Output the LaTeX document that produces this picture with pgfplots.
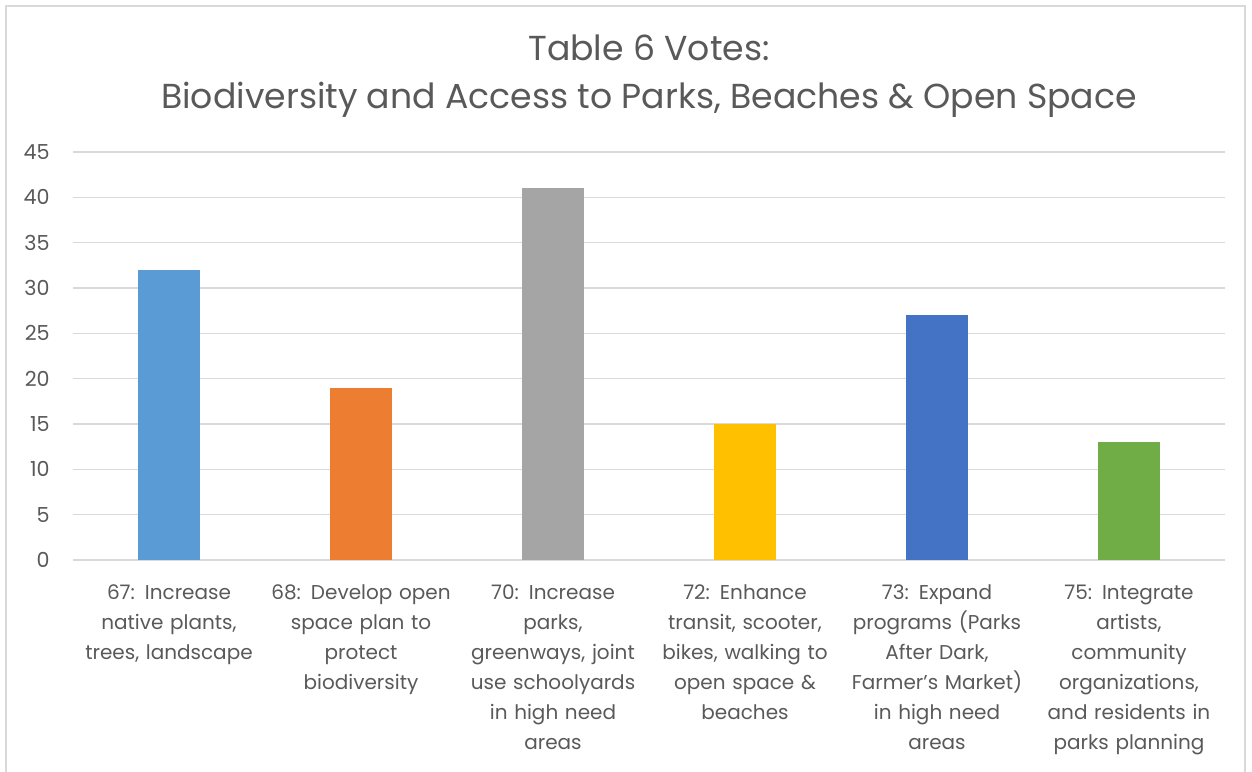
\documentclass[border=0pt]{standalone}
\usepackage{pgfplots}
\pgfplotsset{compat=1.18}
\usepackage{fontspec}
\setmainfont{Poppins}
\definecolor{txt}{HTML}{595959}
\definecolor{grd}{HTML}{D9D9D9}
\definecolor{c1}{HTML}{5B9BD5}
\definecolor{c2}{HTML}{ED7D31}
\definecolor{c3}{HTML}{A5A5A5}
\definecolor{c4}{HTML}{FFC000}
\definecolor{c5}{HTML}{4472C4}
\definecolor{c6}{HTML}{70AD47}
\begin{document}
\begin{tikzpicture}[x=0.75pt,y=0.75pt]
\useasboundingbox (0,0) rectangle (1252,-771);
\draw[grd, line width=1pt] (6,-790) -- (6,-6) -- (1245,-6) -- (1245,-790);
\begin{axis}[
  at={(54.75pt,-420pt)}, anchor=south west,
  scale only axis, width=864pt, height=306pt,
  xmin=-0.5, xmax=5.5, ymin=0, ymax=45,
  axis line style={draw=none},
  ytick={0,5,...,45},
  ymajorgrids, grid style={grd, line width=1pt},
  xtick={0,...,5}, xtick style={draw=none}, ytick style={draw=none},
  xticklabels={
    {67: Increase\\native plants,\\trees, landscape},
    {68: Develop open\\space plan to\\protect\\biodiversity},
    {70: Increase\\parks,\\greenways, joint\\use schoolyards\\in high need\\areas},
    {72: Enhance\\transit, scooter,\\bikes, walking to\\open space \&\\beaches},
    {73: Expand\\programs (Parks\\After Dark,\\Farmer's Market)\\in high need\\areas},
    {75: Integrate\\artists,\\community\\organizations,\\and residents in\\parks planning}},
  xticklabel style={align=center, text width=150pt, font=\fontsize{15}{22.5}\selectfont, text=txt, anchor=north, yshift=-15pt},
  yticklabel style={font=\fontsize{15.5}{17}\selectfont, text=txt, xshift=-14pt},
  /pgf/number format/assume math mode=true,
  title={Table 6 Votes:\\Biodiversity and Access to Parks, Beaches \& Open Space},
  title style={align=center, font=\fontsize{26}{36.5}\selectfont, text=txt, at={(0.5,1)}, anchor=south, yshift=16pt},
  clip=false,
]
\addplot[ybar, bar width=46.5pt, fill=c1, draw=none] coordinates {(0,32)};
\addplot[ybar, bar width=46.5pt, fill=c2, draw=none] coordinates {(1,19)};
\addplot[ybar, bar width=46.5pt, fill=c3, draw=none] coordinates {(2,41)};
\addplot[ybar, bar width=46.5pt, fill=c4, draw=none] coordinates {(3,15)};
\addplot[ybar, bar width=46.5pt, fill=c5, draw=none] coordinates {(4,27)};
\addplot[ybar, bar width=46.5pt, fill=c6, draw=none] coordinates {(5,13)};
\end{axis}
\end{tikzpicture}
\end{document}
